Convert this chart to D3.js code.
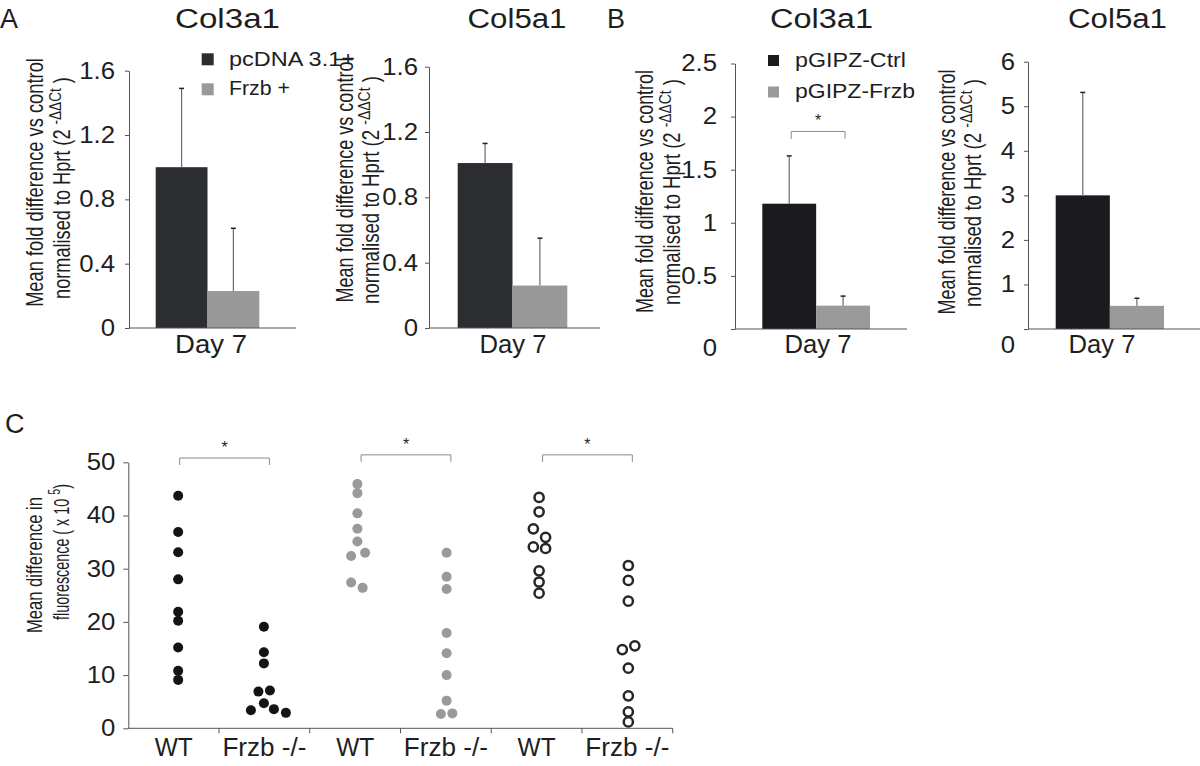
<!DOCTYPE html>
<html><head><meta charset="utf-8">
<script src="https://cdn.jsdelivr.net/npm/d3@7"></script>
<style>
body{margin:0;background:#fff}
svg{display:block}
text{font-family:"Liberation Sans",Arial,Helvetica,sans-serif;fill:#1e1e1e}
</style>
</head><body>
<svg id="chart" width="1200" height="766"></svg>
<script>
// ---------------- DATA ----------------
const barCategory = "Day 7";
const seriesA = ["pcDNA 3.1+", "Frzb +"];
const seriesB = ["pGIPZ-Ctrl", "pGIPZ-Frzb"];
const genes = ["Col3a1", "Col5a1"];

const meanA_Col3a1 = [1.00, 0.23];
const errA_Col3a1  = [0.49, 0.39];
const meanA_Col5a1 = [1.01, 0.26];
const errA_Col5a1  = [0.12, 0.29];
const meanB_Col3a1 = [1.18, 0.22];
const errB_Col3a1  = [0.45, 0.09];
const meanB_Col5a1 = [3.00, 0.52];
const errB_Col5a1  = [2.31, 0.17];

const ticksA  = [0, 0.4, 0.8, 1.2, 1.6];
const ticksB3 = [0, 0.5, 1, 1.5, 2, 2.5];
const ticksB5 = [0, 1, 2, 3, 4, 5, 6];
const ticksC  = [0, 10, 20, 30, 40, 50];

const groupsC = ["WT", "Frzb -/-", "WT", "Frzb -/-", "WT", "Frzb -/-"];
const valsC = [
  [43.7, 36.9, 33.1, 28.0, 21.9, 20.2, 15.2, 10.8, 9.1],
  [19.1, 14.3, 12.2, 6.9, 7.1, 4.7, 3.4, 3.6, 2.9],
  [45.9, 44.2, 40.4, 37.5, 35.1, 32.4, 33.0, 27.4, 26.4],
  [33.0, 28.5, 26.2, 17.9, 14.1, 10.0, 5.2, 2.7, 2.8],
  [43.4, 40.7, 37.5, 35.9, 34.1, 33.8, 29.6, 27.5, 25.4],
  [30.6, 27.8, 23.9, 14.8, 15.5, 11.3, 6.1, 3.1, 1.2]
];
// horizontal jitter of each dot, in dot-radius units (beeswarm lanes)
const jitterC = [
  [0.9, 0.9, 0.9, 0.9, 0.9, 0.9, 0.9, 0.9, 0.9],
  [-0.1, -0.1, -0.1, -1.2, 1.1, -0.1, -2.7, 1.9, 4.3],
  [0.45, 0.45, 0.45, 0.45, 0.45, -0.8, 2.0, -0.8, 1.5],
  [0.15, 0.15, 0.15, 0.15, 0.15, 0.15, 0.15, -1.0, 1.3],
  [0.5, 0.5, -0.65, 1.8, -0.65, 1.8, 0.5, 0.5, 0.5],
  [0.2, 0.2, 0.2, -1.0, 1.5, 0.2, 0.2, 0.2, 0.2]
];
const sigPairsC = [[0, 1], [2, 3], [4, 5]];

// ---------------- DRAW ----------------
const svg = d3.select("#chart");
const AXC = "#555";

function fitText(sel, w) {
  sel.attr("textLength", w).attr("lengthAdjust", "spacingAndGlyphs");
}
function stretch(sel, f) {
  sel.each(function () {
    const w = this.getComputedTextLength();
    d3.select(this).attr("textLength", w * f).attr("lengthAdjust", "spacingAndGlyphs");
  });
}

function vlabel(parts, cx, cy, target, size) {
  const g = svg.append("g").attr("transform", `translate(${cx},${cy}) rotate(-90)`);
  const t = g.append("text").attr("text-anchor", "middle").attr("font-size", size).attr("dy", "0.35em");
  parts.forEach(p => {
    if (p.sup) {
      t.append("tspan").attr("font-size", size * 0.75).attr("dy", -size * 0.4).text(p.t);
    } else {
      const ts = t.append("tspan").text(p.t);
      if (p.after) ts.attr("dy", size * 0.4);
    }
  });
  const w = t.node().getComputedTextLength();
  t.attr("transform", `scale(${target / w},1)`);
}

function styleAxis(g, fs) {
  g.attr("font-family", null).attr("font-size", fs).attr("color", AXC);
  g.selectAll("text").attr("fill", "#1e1e1e").call(stretch, 1.12);
}

function barPanel(c) {
  const y = d3.scaleLinear().domain([0, c.max]).range([c.y0, c.y1]);
  const xb = d3.scaleBand().domain(c.series).range([c.barL, c.barR]).padding(0);
  const data = c.series.map((s, i) => ({ s, m: c.mean[i], e: c.err[i], i }));

  svg.append("g").selectAll("rect").data(data).join("rect")
    .attr("x", d => xb(d.s)).attr("width", xb.bandwidth())
    .attr("y", d => y(d.m)).attr("height", d => y(0) - y(d.m))
    .attr("fill", d => c.colors[d.i]);

  const eg = svg.append("g");
  eg.selectAll("line.v").data(data).join("line").attr("class", "v")
    .attr("x1", d => xb(d.s) + xb.bandwidth() / 2).attr("x2", d => xb(d.s) + xb.bandwidth() / 2)
    .attr("y1", d => y(d.m)).attr("y2", d => y(d.m + d.e))
    .attr("stroke", "#6a6a6a").attr("stroke-width", 1.2);
  eg.selectAll("line.c").data(data).join("line").attr("class", "c")
    .attr("x1", d => xb(d.s) + xb.bandwidth() / 2 - 2.5).attr("x2", d => xb(d.s) + xb.bandwidth() / 2 + 2.5)
    .attr("y1", d => y(d.m + d.e)).attr("y2", d => y(d.m + d.e))
    .attr("stroke", "#222").attr("stroke-width", 1.5);

  const ax = d3.axisLeft(y).tickValues(c.ticks).tickSize(4).tickSizeOuter(0)
    .tickPadding(c.pad).tickFormat(c.fmt);
  const g = svg.append("g").attr("transform", `translate(${c.ax},0)`).call(ax);
  styleAxis(g, 23);
  if (c.zeroShift) g.selectAll(".tick").filter(d => d === 0).select("text").attr("y", c.zeroShift);
  svg.append("line").attr("x1", c.ax).attr("x2", c.xEnd).attr("y1", y(0)).attr("y2", y(0))
    .attr("stroke", AXC).attr("stroke-width", 1);

  svg.append("text").attr("x", c.titleX).attr("y", 28).attr("text-anchor", "middle")
    .attr("font-size", 27).text(c.title).call(fitText, c.titleW);
  svg.append("text").attr("x", c.dayX).attr("y", 353).attr("text-anchor", "middle")
    .attr("font-size", 26).text(barCategory).call(fitText, c.dayW);
  vlabel([{ t: "Mean fold difference vs control" }], c.l1x, c.l1y, c.l1w, 23);
  vlabel([{ t: "normalised to Hprt (2 " }, { t: "-ΔΔCt", sup: true }, { t: " )", after: true }], c.l2x, c.l2y, c.l2w, 23);

  if (c.sig) {
    const xa = xb(c.series[0]) + xb.bandwidth() / 2 + 2, xc = xb(c.series[1]) + xb.bandwidth() / 2 + 2;
    const yy = y(c.sig);
    svg.append("path").attr("d", `M${xa},${yy + 7.5}V${yy}H${xc}V${yy + 7.5}`)
      .attr("fill", "none").attr("stroke", "#8a8a8a").attr("stroke-width", 1);
    svg.append("text").attr("x", (xa + xc) / 2).attr("y", yy - 5).attr("text-anchor", "middle")
      .attr("font-size", 16).text("*");
  }
  return { xb, y };
}

const fmtA = d => d === 0 ? "0" : d3.format(".1f")(d);
const fmtB = d => String(d);
const colA = ["#2c2d31", "#999999"];
const colB = ["#1b1a1e", "#9a9a9a"];

barPanel({ series: seriesA, mean: meanA_Col3a1, err: errA_Col3a1, max: 1.6, ticks: ticksA, fmt: fmtA,
  y0: 328, y1: 70.7, ax: 129, xEnd: 296, barL: 155.7, barR: 259.3, pad: 10, colors: colA,
  title: genes[0], titleX: 227.5, titleW: 105, dayX: 211, dayW: 72,
  l1x: 35, l1y: 182.5, l1w: 249, l2x: 62, l2y: 188, l2w: 222 });
barPanel({ series: seriesA, mean: meanA_Col5a1, err: errA_Col5a1, max: 1.6, ticks: ticksA, fmt: fmtA,
  y0: 328, y1: 66.7, ax: 429, xEnd: 600, barL: 457.7, barR: 567.3, pad: 7, colors: colA,
  title: genes[1], titleX: 517, titleW: 99, dayX: 513, dayW: 67,
  l1x: 345, l1y: 180, l1w: 245, l2x: 371, l2y: 190, l2w: 228 });
barPanel({ series: seriesB, mean: meanB_Col3a1, err: errB_Col3a1, max: 2.5, ticks: ticksB3, fmt: fmtB,
  y0: 329, y1: 63.5, ax: 735, xEnd: 907, barL: 762.3, barR: 870, pad: 14, colors: colB, zeroShift: 19,
  title: genes[0], titleX: 821.5, titleW: 103, dayX: 818, dayW: 67, sig: 1.86,
  l1x: 645, l1y: 191.5, l1w: 243, l2x: 672, l2y: 192, l2w: 226 });
barPanel({ series: seriesB, mean: meanB_Col5a1, err: errB_Col5a1, max: 6, ticks: ticksB5, fmt: fmtB,
  y0: 329, y1: 61.7, ax: 1028, xEnd: 1200, barL: 1055.7, barR: 1164, pad: 9, colors: colB, zeroShift: 16,
  title: genes[1], titleX: 1117.5, titleW: 99, dayX: 1102, dayW: 67,
  l1x: 947, l1y: 192, l1w: 245, l2x: 973, l2y: 193, l2w: 228 });

function legend(series, colors, x, ys, size, tx, bases, widths) {
  series.forEach((s, i) => {
    svg.append("rect").attr("x", x).attr("y", ys[i]).attr("width", size).attr("height", size).attr("fill", colors[i]);
    svg.append("text").attr("x", tx).attr("y", bases[i]).attr("font-size", 20).text(s).call(fitText, widths[i]);
  });
}
legend(seriesA, colA, 201.7, [53.3, 83.3], 12, 229, [65.5, 95], [126, 61]);
legend(seriesB, colB, 768, [55, 86.5], 11, 795, [67, 98], [111, 120]);

svg.append("text").attr("x", 0).attr("y", 28).attr("font-size", 27).text("A");
svg.append("text").attr("x", 607).attr("y", 28).attr("font-size", 27).text("B");
svg.append("text").attr("x", 5).attr("y", 433).attr("font-size", 27).text("C");

// ---------------- PANEL C ----------------
(function () {
  const y = d3.scaleLinear().domain([0, 50]).range([728.3, 462.3]);
  const x = d3.scaleBand().domain(d3.range(groupsC.length)).range([128.3, 672.7]).padding(0);
  const r = 5;
  const styles = [
    { fill: "#141414", stroke: "none", sw: 0, r: 5 },
    { fill: "#9a9a9a", stroke: "none", sw: 0, r: 5 },
    { fill: "#fff", stroke: "#26262a", sw: 2.5, r: 4.6 }
  ];
  const pts = [];
  valsC.forEach((vals, gi) => vals.forEach((v, k) => pts.push({ gi, v, j: jitterC[gi][k], st: styles[Math.floor(gi / 2)] })));

  const ax = d3.axisLeft(y).tickValues(ticksC).tickSize(5).tickSizeOuter(0).tickPadding(8);
  const g = svg.append("g").attr("transform", "translate(128.3,0)").call(ax);
  styleAxis(g, 23);
  svg.append("line").attr("x1", 128.3).attr("x2", 672.7).attr("y1", y(0)).attr("y2", y(0))
    .attr("stroke", AXC).attr("stroke-width", 1);
  const bounds = d3.range(1, groupsC.length + 1).map(i => x.range()[0] + i * x.step());
  svg.append("g").selectAll("line").data(bounds).join("line")
    .attr("x1", d => d).attr("x2", d => d).attr("y1", y(0)).attr("y2", y(0) + 5)
    .attr("stroke", AXC).attr("stroke-width", 1);
  svg.append("g").selectAll("text").data(groupsC).join("text")
    .attr("x", (d, i) => x(i) + x.bandwidth() / 2).attr("y", 756).attr("text-anchor", "middle")
    .attr("font-size", 26).text(d => d)
    .each(function (d) { d3.select(this).call(fitText, d === "WT" ? 38 : 84); });

  svg.append("g").selectAll("circle").data(pts).join("circle")
    .attr("cx", d => x(d.gi) + x.bandwidth() / 2 + d.j * r)
    .attr("cy", d => y(d.v)).attr("r", d => d.st.r)
    .attr("fill", d => d.st.fill).attr("stroke", d => d.st.stroke).attr("stroke-width", d => d.st.sw);

  sigPairsC.forEach(([a, b], i) => {
    const xa = x(a) + x.bandwidth() / 2 + 6, xc = x(b) + x.bandwidth() / 2 + 5;
    const yy = y(i === 0 ? 50.8 : 51.4);
    svg.append("path").attr("d", `M${xa},${yy + 7}V${yy}H${xc}V${yy + 7}`)
      .attr("fill", "none").attr("stroke", "#8a8a8a").attr("stroke-width", 1);
    svg.append("text").attr("x", (xa + xc) / 2).attr("y", yy - 5).attr("text-anchor", "middle")
      .attr("font-size", 16).text("*");
  });

  vlabel([{ t: "Mean difference in" }], 34, 565, 136, 22);
  vlabel([{ t: "fluorescence ( x 10 " }, { t: "5", sup: true }, { t: ")", after: true }], 61, 552, 136, 22);
})();
</script>
</body></html>
